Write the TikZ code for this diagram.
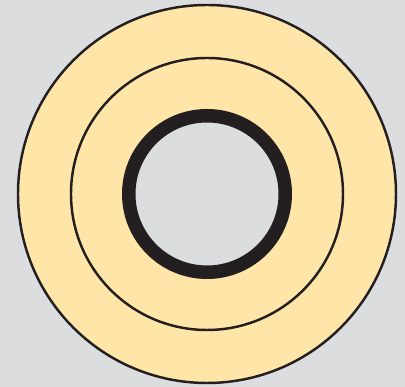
\documentclass[tikz,border=0pt]{standalone}
\usepackage{tikz}
\usepackage{xcolor}

\definecolor{panelgray}{HTML}{DCDDDF}
\definecolor{paleyellow}{HTML}{FFE6A8}
\definecolor{inkblack}{HTML}{231F20}

\begin{document}
\begin{tikzpicture}[
    ring/.style={draw=inkblack, line width=1.4pt},
    thickring/.style={draw=inkblack, line width=0.27cm}
]
\fill[panelgray] (0,0) rectangle (8.1,7.74);
\useasboundingbox (0,0) rectangle (8.1,7.74);
\coordinate (c) at (4.14,3.86);
\fill[paleyellow] (c) circle (3.78);
\draw[ring] (c) circle (3.78);
\draw[ring] (c) circle (2.72);
\fill[panelgray] (c) circle (1.57);
\draw[thickring] (c) circle (1.565);
\end{tikzpicture}
\end{document}
